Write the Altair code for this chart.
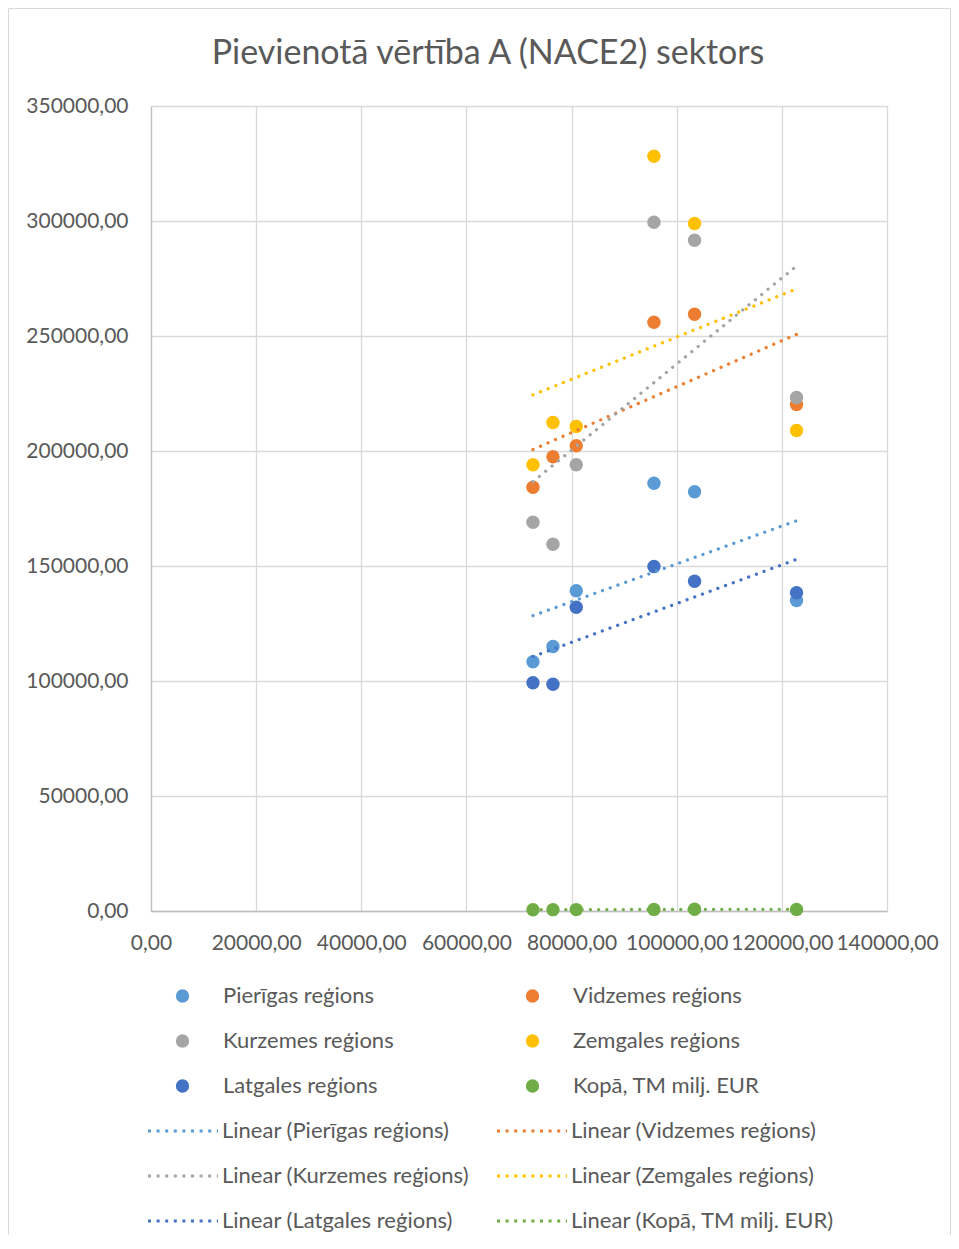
import altair as alt
import pandas as pd

x_vals = [72656, 76460, 80892, 95670, 103393, 122793]
series_names = ["Pierīgas reģions", "Vidzemes reģions", "Kurzemes reģions",
                "Zemgales reģions", "Latgales reģions", "Kopā, TM milj. EUR"]
pierigas = [108348, 115000, 139217, 186000, 182261, 135000]
vidzemes = [184261, 197478, 202261, 256000, 259478, 220217]
kurzemes = [169043, 159478, 194000, 299478, 291652, 223261]
zemgales = [194000, 212391, 210652, 328174, 298913, 208913]
latgales = [99217, 98609, 132087, 149783, 143391, 138348]
kopa = [540, 580, 610, 700, 760, 690]
colors = ["#5B9BD5", "#ED7D31", "#A5A5A5", "#FFC000", "#4472C4", "#70AD47"]
x_ticks = [0, 20000, 40000, 60000, 80000, 100000, 120000, 140000]
y_ticks = [0, 50000, 100000, 150000, 200000, 250000, 300000, 350000]
title_text = "Pievienotā vērtība A (NACE2) sektors"

trend_names = [f"Linear ({n})" for n in series_names]
all_series = [pierigas, vidzemes, kurzemes, zemgales, latgales, kopa]
rows = []
for i, (name, vals) in enumerate(zip(series_names, all_series)):
    for xv, yv in zip(x_vals, vals):
        rows.append({"x": xv, "y": yv, "series": name, "trend": trend_names[i], "k": i})
df = pd.DataFrame(rows)

FONT = "Lato"
TXT = "#595959"
label_expr = "replace(format(datum.value, '.2f'), '.', ',')"

x_enc = alt.X("x:Q", scale=alt.Scale(domain=[0, 140000], nice=False, zero=False),
              axis=alt.Axis(title=None, values=x_ticks, labelExpr=label_expr, grid=True,
                            gridColor="#d9d9d9", gridWidth=1.3, domainColor="#bfbfbf",
                            domainWidth=1.3, ticks=False, tickSize=0, labelPadding=21,
                            labelFlush=False, labelOverlap=False, labelFont=FONT,
                            labelFontSize=21, labelColor=TXT))
y_enc = alt.Y("y:Q", scale=alt.Scale(domain=[0, 350000], nice=False, zero=False),
              axis=alt.Axis(title=None, values=y_ticks, labelExpr=label_expr, grid=True,
                            gridColor="#d9d9d9", gridWidth=1.3, domainColor="#bfbfbf",
                            domainWidth=1.3, ticks=False, tickSize=0, labelPadding=23,
                            labelOverlap=False, labelFont=FONT, labelFontSize=21,
                            labelColor=TXT))

frame = alt.Chart(alt.Data(values=[{"a": 1}])).mark_rect(
    filled=False, stroke="#d9d9d9", strokeWidth=1
).encode(x=alt.value(-142.5), x2=alt.value(799.5), y=alt.value(-97.5), y2=alt.value(1160))

points = alt.Chart(df).mark_circle(size=180, opacity=1).encode(
    x=x_enc, y=y_enc,
    fill=alt.Fill("series:N", scale=alt.Scale(domain=series_names, range=colors),
                  legend=alt.Legend(title=None, orient="none", legendX=20.5, legendY=879,
                                    direction="horizontal",
                                    columns=2, columnPadding=127, rowPadding=23,
                                    symbolType="circle", symbolSize=177, symbolStrokeWidth=0,
                                    symbolOpacity=1, labelFontSize=22, labelFont=FONT,
                                    labelColor=TXT, labelOffset=29.5, labelLimit=400,
                                    padding=0)),
    order=alt.Order("k:Q"),
)

lines = alt.Chart(df).transform_regression(
    "x", "y", groupby=["trend"]
).mark_line(strokeDash=[0.01, 8.2], strokeCap="round", strokeWidth=3.3).encode(
    x=alt.X("x:Q"), y=alt.Y("y:Q"),
    stroke=alt.Stroke("trend:N", scale=alt.Scale(domain=trend_names, range=colors),
                      legend=alt.Legend(title=None, orient="none", legendX=-14, legendY=1014,
                                        direction="horizontal",
                                        columns=2, columnPadding=17, rowPadding=23,
                                        symbolType="M0,0H14", symbolSize=100,
                                        symbolStrokeWidth=3, symbolDash=[3, 5.6],
                                        labelFontSize=22, labelFont=FONT, labelColor=TXT,
                                        labelOffset=63, labelLimit=400, padding=0)),
)

chart = alt.layer(frame, points, lines).properties(
    width=736, height=805,
    title=alt.TitleParams(title_text, fontSize=34, font=FONT, fontWeight="normal",
                          color=TXT, anchor="middle", dx=-31, dy=89, offset=26),
    autosize=alt.AutoSizeParams(type="none"),
    padding={"left": 143, "top": 98, "right": 64, "bottom": 324},
).configure_view(strokeWidth=0).configure(background="white")

chart.save("out.html", embed_options={"renderer": "svg", "actions": False})
